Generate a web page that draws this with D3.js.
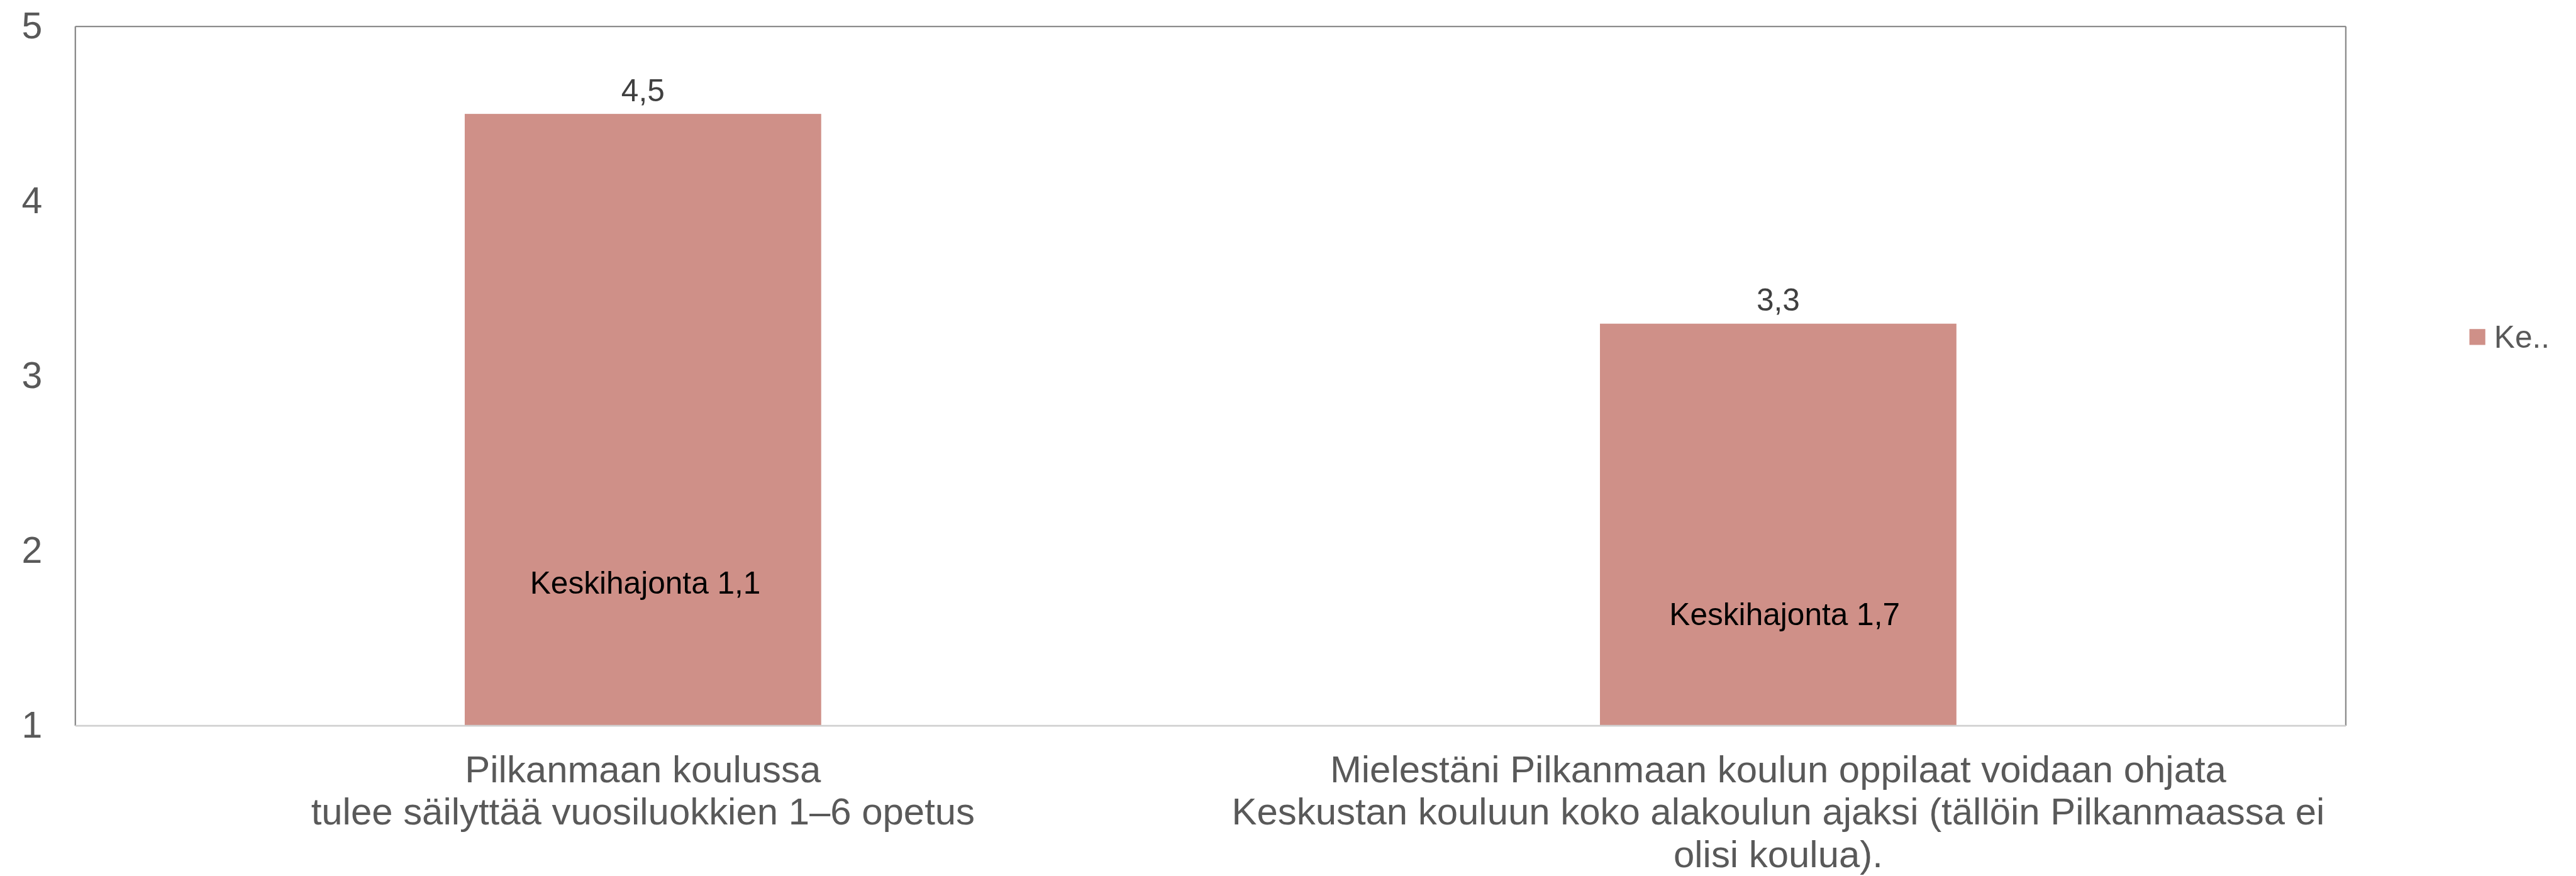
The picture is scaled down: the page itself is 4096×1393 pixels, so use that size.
<!DOCTYPE html>
<html>
<head>
<meta charset="utf-8">
<script src="https://cdn.jsdelivr.net/npm/d3@7"></script>
<style>
  html, body { margin: 0; padding: 0; background: #fff; }
  svg { display: block; }
  text { font-family: "Liberation Sans", Arial, sans-serif; }
</style>
</head>
<body>
<svg id="chart" width="4096" height="1393"></svg>
<script>
// ---- data ----
const categories = [
  "Pilkanmaan koulussa tulee säilyttää vuosiluokkien 1–6 opetus",
  "Mielestäni Pilkanmaan koulun oppilaat voidaan ohjata Keskustan kouluun koko alakoulun ajaksi (tällöin Pilkanmaassa ei olisi koulua)."
];
const categoryLines = [
  ["Pilkanmaan koulussa", "tulee säilyttää vuosiluokkien 1–6 opetus"],
  ["Mielestäni Pilkanmaan koulun oppilaat voidaan ohjata", "Keskustan kouluun koko alakoulun ajaksi (tällöin Pilkanmaassa ei", "olisi koulua)."]
];
const values = [4.5, 3.3];
const valueLabels = ["4,5", "3,3"];
const sdLabels = ["Keskihajonta 1,1", "Keskihajonta 1,7"];
const yTicks = [1, 2, 3, 4, 5];
const yTickLabels = ["1", "2", "3", "4", "5"];
const seriesName = "Ke..";

// ---- layout (reference pixel space, scaled by 0.936) ----
const S = 0.936;
const svg = d3.select("#chart");
const root = svg.append("g").attr("transform", `scale(${S})`);

const plot = { left: 128, right: 3985, top: 45, bottom: 1233 };
const barColor = "#CF9088";

const x = d3.scaleBand()
  .domain(categories)
  .range([plot.left, plot.right])
  .paddingInner(0.686)
  .paddingOuter(0.343);

const y = d3.scaleLinear().domain([1, 5]).range([plot.bottom, plot.top]);

// plot border
root.append("line").attr("x1", plot.left).attr("x2", plot.right).attr("y1", plot.top).attr("y2", plot.top)
  .attr("stroke", "#8c8c8c").attr("stroke-width", 2.5);
root.append("line").attr("x1", plot.left).attr("x2", plot.left).attr("y1", plot.top).attr("y2", plot.bottom)
  .attr("stroke", "#8c8c8c").attr("stroke-width", 2.5);
root.append("line").attr("x1", plot.right).attr("x2", plot.right).attr("y1", plot.top).attr("y2", plot.bottom)
  .attr("stroke", "#8c8c8c").attr("stroke-width", 2.5);

// bars
root.selectAll("rect.bar").data(values).join("rect")
  .attr("class", "bar")
  .attr("x", (d, i) => x(categories[i]))
  .attr("width", x.bandwidth())
  .attr("y", d => y(d))
  .attr("height", d => y(1) - y(d))
  .attr("fill", barColor);

// bottom axis line
root.append("line").attr("x1", plot.left).attr("x2", plot.right).attr("y1", plot.bottom).attr("y2", plot.bottom)
  .attr("stroke", "#d0d0d0").attr("stroke-width", 3);

// y axis
const yAxis = root.append("g")
  .attr("transform", `translate(${plot.left},0)`)
  .call(d3.axisLeft(y).tickValues(yTicks).tickFormat((d, i) => yTickLabels[i]).tickSize(0).tickPadding(56));
yAxis.select(".domain").remove();
yAxis.selectAll("text")
  .attr("font-size", 63)
  .attr("fill", "#595959")
  .style("font-family", "'Liberation Sans', Arial, sans-serif");

// value labels
root.selectAll("text.val").data(values).join("text")
  .attr("class", "val")
  .attr("x", (d, i) => x(categories[i]) + x.bandwidth() / 2)
  .attr("y", d => y(d) - 22)
  .attr("text-anchor", "middle")
  .attr("font-size", 53)
  .attr("fill", "#404040")
  .text((d, i) => valueLabels[i]);

// standard deviation annotations (text boxes placed on the bars)
const sdAnchor = [1.754, 1.576];
root.selectAll("text.sd").data(sdLabels).join("text")
  .attr("class", "sd")
  .attr("x", (d, i) => x(categories[i]) + x.bandwidth() / 2 + (i === 0 ? 4 : 11))
  .attr("y", (d, i) => y(sdAnchor[i]))
  .attr("text-anchor", "middle")
  .attr("font-size", 53)
  .attr("fill", "#000")
  .text(d => d);

// category labels
const catG = root.selectAll("g.cat").data(categoryLines).join("g").attr("class", "cat");
catG.each(function(lines, i) {
  const g = d3.select(this);
  g.selectAll("text").data(lines).join("text")
    .attr("x", x(categories[i]) + x.bandwidth() / 2)
    .attr("y", (d, j) => 1329 + j * 72)
    .attr("text-anchor", "middle")
    .attr("font-size", 64)
    .attr("fill", "#595959")
    .text(d => d);
});

// legend
const leg = root.append("g").attr("transform", "translate(4195,559)");
leg.append("rect").attr("width", 27).attr("height", 27).attr("fill", barColor);
leg.append("text").attr("x", 42).attr("y", 13.5).attr("dy", "0.35em")
  .attr("font-size", 53).attr("fill", "#595959").text(seriesName);
</script>
</body>
</html>
